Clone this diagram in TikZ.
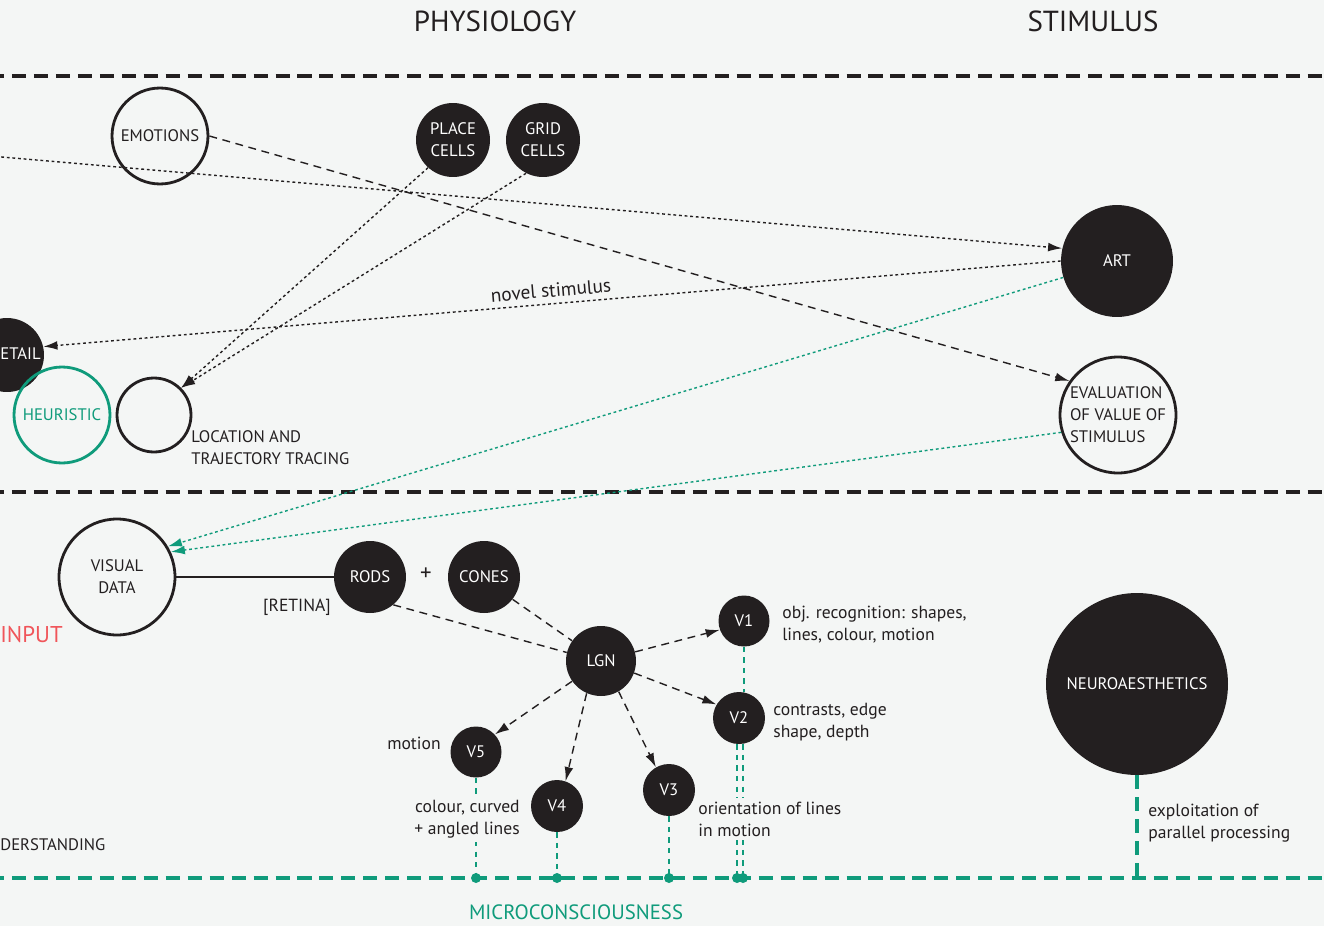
\documentclass[tikz,border=0pt]{standalone}
\usepackage{fontspec}
\setmainfont{PT Sans}
\usetikzlibrary{arrows.meta}
\definecolor{bgc}{HTML}{F4F6F5}
\definecolor{ink}{HTML}{231F20}
\definecolor{tealc}{HTML}{0F9B7B}
\definecolor{inputred}{HTML}{F0555A}
\begin{document}
\begin{tikzpicture}[x=0.02cm, y={(0,-0.02cm)}, >={Latex[length=8pt,width=5pt]},
  font=\fontsize{9.5}{12.5}\selectfont, every node/.style={align=center, text=ink},
  fullc/.style={circle, fill=ink, text=white, inner sep=0pt, minimum size=#1},
  openc/.style={circle, draw=ink, line width=1.6pt, inner sep=0pt, minimum size=#1},
  link/.style={ink, line width=0.8pt, dash pattern=on 4.5pt off 3.2pt},
  dotlink/.style={ink, line width=0.8pt, dash pattern=on 1.6pt off 1.6pt},
  tdot/.style={tealc, line width=0.8pt, dash pattern=on 1.6pt off 1.6pt},
  divider/.style={line width=1.8pt, dash pattern=on 8pt off 4.5pt},
  tline/.style={tealc, line width=1pt, dash pattern=on 3pt off 3pt},
  lbl/.style={anchor=west, align=left, inner sep=0pt, font=\fontsize{10}{12.5}\selectfont},
  masked/.style={fill=bgc, inner ysep=2pt}]
  \useasboundingbox (0,0) rectangle (1324,926);
  \fill[bgc] (0,0) rectangle (1324,926);
  \clip (0,0) rectangle (1324,926);

  % headings and dividers
  \node[font=\fontsize{16.5}{19}\selectfont] (phys) at (495,21) {PHYSIOLOGY};
  \node[font=\fontsize{16.5}{19}\selectfont] (stim) at (1093,21) {STIMULUS};
  \draw[divider, ink] (-10,76) -- (1334,76);
  \draw[divider, ink] (-10,492) -- (1334,492);
  \draw[divider, tealc] (-10,878) -- (1334,878);

  % upper band
  \node[openc=1.92cm] (emo) at (160,136) {EMOTIONS};
  \node[fullc=1.48cm] (place) at (453,140) {PLACE\\CELLS};
  \node[fullc=1.48cm] (grid) at (543,140) {GRID\\CELLS};
  \node[fullc=2.24cm] (art) at (1117,261) {ART};
  \node[openc=2.32cm, align=left] (eval) at (1118,415) {EVALUATION\\OF VALUE OF\\STIMULUS};
  \node[fullc=1.48cm] (det) at (7,355) {};
  \node[anchor=west, inner sep=0pt, text=white] (dett) at (0,354) {ETAIL};
  \node[openc=1.92cm, draw=tealc, text=tealc] (heur) at (62,415) {HEURISTIC};
  \node[openc=1.48cm] (loc) at (154,415) {};
  \node[lbl, font=\fontsize{9.5}{12.5}\selectfont] (loct) at (191,448) {LOCATION AND\\TRAJECTORY TRACING};

  % lower band
  \node[openc=2.32cm] (vis) at (117,577) {VISUAL\\DATA};
  \node[text=inputred, anchor=west, inner sep=0pt, font=\fontsize{13}{15}\selectfont] (input) at (0,634) {INPUT};
  \node[fullc=1.44cm] (rods) at (370,577) {RODS};
  \node[font=\fontsize{13}{15}\selectfont] (plus) at (426,574) {+};
  \node[fullc=1.44cm] (cones) at (484,577) {CONES};
  \node[font=\fontsize{10}{12}\selectfont] (ret) at (297,607) {[RETINA]};
  \node[fullc=1.4cm] (lgn) at (601,661) {LGN};
  \node[fullc=1.02cm] (v1) at (744,621) {V1};
  \node[fullc=1.04cm] (v2) at (739,718) {V2};
  \node[fullc=1.02cm] (v5) at (476,752) {V5};
  \node[fullc=1.04cm] (v4) at (557,806) {V4};
  \node[fullc=1.04cm] (v3) at (669,790) {V3};
  \node[fullc=3.64cm] (neuro) at (1137,684) {NEUROAESTHETICS};

  % connectors
  \coordinate (lft) at (-10,156);
  \draw[dotlink, ->] (lft) -- (art.167);
  \draw[link, ->] (emo.east) -- (eval.145);
  \draw[dotlink, ->] (place.228) -- (loc.45);
  \draw[dotlink, ->] (grid.243) -- (loc.45);
  \draw[dotlink, ->] (art.180) -- node[above, sloped, font=\fontsize{11}{13}\selectfont] {novel stimulus} (det.13);
  \draw[tdot, ->] (art.197) -- (vis.31);
  \draw[tdot, ->] (eval.197) -- (vis.25);

  \draw[ink, line width=1pt] (vis) -- (rods);
  \draw[link] (rods.-50) -- (lgn.166);
  \draw[link] (cones.-38) -- (lgn.145);
  \draw[link, ->] (lgn.15) -- (v1.200);
  \draw[link, ->] (lgn.-20) -- (v2.149);
  \draw[link, ->] (lgn.215) -- (v5.43);
  \draw[link, ->] (lgn.246) -- (v4.71);
  \draw[link, ->] (lgn.-60) -- (v3.120);

  % microconsciousness ties
  \coordinate (m5) at (476,878);
  \coordinate (m4) at (557,878);
  \coordinate (m3) at (669,878);
  \coordinate (m2a) at (737,878);
  \coordinate (m2b) at (743,878);
  \coordinate (mn) at (1137,878);
  \draw[tline] (v5) -- (m5);
  \draw[tline] (v4) -- (m4);
  \draw[tline] (v3) -- (m3);
  \draw[tline] (v1.south) -- (v1.south |- v2.north);
  \draw[tline] (v2.south -| m2a) -- (m2a);
  \draw[tline] (v2.south -| m2b) -- (m2b);
  \draw[divider, tealc] (neuro) -- (mn);
  \foreach \m in {m5,m4,m3,m2a,m2b}
    \fill[tealc] (\m) circle (0.1cm);

  % labels
  \node[lbl] (v1t) at (782,625) {obj. recognition: shapes,\\lines, colour, motion};
  \node[lbl] (v2t) at (773,722) {contrasts, edge\\shape, depth};
  \node[lbl, anchor=east] (v5t) at (441,743) {motion};
  \node[lbl, masked, anchor=east, align=right] (v4t) at (520,819) {colour, curved\\+ angled lines};
  \node[lbl, masked] (v3t) at (698,819) {orientation of lines\\in motion};
  \node[lbl] (neurot) at (1148,823) {exploitation of\\parallel processing};
  \node[anchor=west, inner sep=0pt] (und) at (0,845) {DERSTANDING};
  \node[text=tealc, font=\fontsize{11.8}{14}\selectfont] (micro) at (576,912) {MICROCONSCIOUSNESS};
\end{tikzpicture}
\end{document}
